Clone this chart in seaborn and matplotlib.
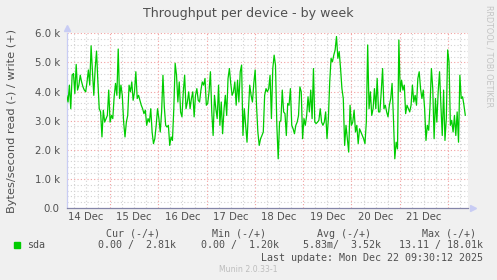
import numpy as np
import pandas as pd
import matplotlib
matplotlib.use("Agg")
import matplotlib.pyplot as plt
import seaborn as sns

# ---------------- data (values in thousands of bytes/second, write +) -------------
write_k = [
    3.87, 3.64, 4.22, 3.41, 4.56, 4.62, 3.93, 4.93, 4.05, 4.22,
    4.56, 4.33, 4.16, 4.05, 3.99, 4.33, 4.74, 4.22, 5.57, 4.68,
    3.87, 4.79, 5.39, 4.33, 3.41, 3.30, 2.44, 3.36, 2.95, 3.07,
    3.18, 4.05, 2.95, 3.18, 3.07, 3.82, 4.28, 3.87, 5.46, 3.76,
    4.22, 3.87, 2.95, 2.44, 2.95, 3.18, 4.22, 3.99, 4.33, 3.70,
    3.99, 4.68,
    3.76, 3.87, 3.70, 3.53, 3.41, 3.24, 3.36, 2.84, 3.07, 2.95,
    3.41, 2.61, 2.21, 2.38, 2.84, 3.41, 3.07, 2.61, 3.30, 4.56,
    3.47, 2.84, 2.78, 2.84, 2.15, 2.44, 2.32, 3.41, 4.97, 4.56,
    3.64, 4.33, 3.30, 3.13, 3.99, 4.56, 3.41, 3.64, 3.99, 3.41,
    3.76, 3.99, 3.13, 3.87, 4.10, 3.70, 3.64, 4.05, 4.33, 4.22,
    4.45, 3.53, 3.59, 3.99, 4.68, 3.30, 2.49, 3.87, 3.41, 3.07,
    4.22, 2.84, 3.64, 2.55, 3.36, 3.87, 3.18, 4.45, 4.79, 4.28,
    3.87, 3.99, 4.33, 3.53, 4.39, 3.64, 4.68, 4.91, 2.49, 3.41,
    2.84, 2.26, 3.30, 4.22, 3.87, 3.64, 4.28, 4.74, 3.53, 2.61,
    2.15, 2.38, 2.49, 2.61, 3.87, 4.10, 3.99, 4.10, 4.56, 3.07,
    4.79, 5.25, 4.91, 2.84, 1.69,
    2.95, 3.01, 4.05, 3.30, 3.24, 2.49, 3.59, 3.53, 4.10, 2.84,
    2.72, 2.55, 2.84, 2.95, 3.18, 4.16, 3.99, 2.38, 3.07, 2.84,
    3.18, 3.82, 3.30, 4.05, 3.07, 4.79, 2.95, 2.90, 2.95, 3.01,
    3.41, 2.95, 2.84, 2.95, 3.30, 2.38, 3.07, 4.33, 5.14, 5.02,
    5.25, 5.43, 5.89, 5.14, 5.37, 4.79, 4.10, 3.76, 2.15, 2.84,
    2.38, 1.92, 3.53, 2.84, 2.95, 3.36, 2.61, 2.84, 2.21, 2.72,
    2.61, 2.49, 2.38, 2.21, 2.95, 5.60, 3.41, 3.99, 3.18, 3.41,
    4.10, 3.41, 4.45, 3.30, 3.30, 3.99, 4.79, 3.41, 3.53, 3.30,
    3.13, 3.53, 3.76, 4.28, 3.07, 1.69, 2.26, 2.03, 5.77, 3.99,
    4.39, 4.05, 4.22, 3.24, 3.53, 3.41, 3.30, 3.53, 4.22, 3.64,
    3.87, 3.53, 4.45, 4.68, 4.10, 3.76, 4.05, 3.41, 2.32, 2.84,
    2.67, 3.53, 4.79, 4.10, 2.38, 3.76, 2.95, 3.99, 4.68, 3.53,
    2.49, 4.05, 2.32, 3.07, 5.43, 5.02, 2.84, 3.01, 2.61, 3.18,
    2.49, 3.30, 2.26, 4.56, 3.76, 3.82, 3.53, 3.18,
]
# time span of samples, in days since 14 Dec 00:00
t_first = 0.104
t_last = 8.356
view_start = 0.104
view_end = 8.412
day_labels = ["14 Dec", "15 Dec", "16 Dec", "17 Dec", "18 Dec", "19 Dec", "20 Dec", "21 Dec"]
y_ticks = [0, 1, 2, 3, 4, 5, 6]
y_tick_labels = ["0.0", "1.0 k", "2.0 k", "3.0 k", "4.0 k", "5.0 k", "6.0 k"]

legend_headers = ["Cur (-/+)", "Min (-/+)", "Avg (-/+)", "Max (-/+)"]
legend_values = ["0.00 /  2.81k", "0.00 /  1.20k", "5.83m/  3.52k", "13.11 / 18.01k"]
series_name = "sda"

df = pd.DataFrame({"t": np.linspace(t_first, t_last, len(write_k)), "v": write_k})

# ---------------- figure ------------------------------------------------------------
W, H = 497, 280
sns.set_theme(style="white")
plt.rcParams["font.family"] = ["DejaVu Sans"]
fig = plt.figure(figsize=(W / 100, H / 100), dpi=100, facecolor="#F0F0F0")

x0, x1, ytop, ybot = 66.7, 468.0, 33.3, 208.0
ax = fig.add_axes([x0 / W, 1 - ybot / H, (x1 - x0) / W, (ybot - ytop) / H])
ax.set_facecolor("white")
ax.set_xlim(view_start, view_end)
ax.set_ylim(0, 6.0)

# minor grid (grey dotted)
minor_col = "#D2D2D2"
for xv in np.arange(0.25, view_end, 0.25):
    if abs(xv - round(xv)) > 1e-6:
        ax.axvline(xv, color=minor_col, lw=0.8, ls=(0, (1, 2)), zorder=1)
for yv in np.arange(0.2, 6.0, 0.2):
    if abs(yv - round(yv)) > 1e-6:
        ax.axhline(yv, color=minor_col, lw=0.8, ls=(0, (1, 2)), zorder=1)
# major grid (red dotted)
major_col = "#F2A0A0"
for xv in range(1, 9):
    ax.axvline(xv, color=major_col, lw=0.8, ls=(0, (1, 2)), zorder=1.5)
for yv in y_ticks[1:]:
    ax.axhline(yv, color=major_col, lw=0.8, ls=(0, (1, 2)), zorder=1.5)

sns.lineplot(data=df, x="t", y="v", ax=ax, color="#00CC00", lw=0.9, zorder=3, legend=False)

for s in ["top", "right"]:
    ax.spines[s].set_visible(False)
ax.spines["left"].set_color("#C8CCF4")
ax.spines["left"].set_linewidth(0.9)
ax.spines["bottom"].set_color("#8484A8")
ax.spines["bottom"].set_linewidth(0.9)
ax.spines["bottom"].set_zorder(4)

# arrows at axis ends
ax.plot([0], [1.03], marker="^", ms=4, color="#C8CCF4", transform=ax.transAxes, clip_on=False)
ax.plot([1.012], [0], marker=">", ms=4, color="#C8CCF4", transform=ax.transAxes, clip_on=False)

ax.set_xticks([d + 0.5 for d in range(len(day_labels))])
ax.set_xticklabels(day_labels)
ax.set_yticks(y_ticks)
ax.set_yticklabels(y_tick_labels)
ax.tick_params(axis="both", length=0, labelsize=7.3, colors="#505050", pad=3)
ax.tick_params(axis="y", pad=5)
ax.set_xlabel("")
ax.set_ylabel("Bytes/second read (-) / write (+)", fontsize=8.2, color="#505050", labelpad=4)
ax.yaxis.set_label_coords(-0.124, 0.5)


def ftext(x, y, s, **kw):
    fig.text(x / W, 1 - y / H, s, **kw)


ftext(248.5, 13, "Throughput per device - by week", ha="center", va="center",
      fontsize=9.1, color="#505050")
ftext(489, 5, "RRDTOOL / TOBI OETIKER", ha="center", va="top", rotation=270,
      fontsize=5.8, color="#C4C4C4")

mono = "DejaVu Sans Mono"
hdr_right = [160, 266, 371, 476]
val_right = [176, 279, 381, 483]
for hx, h in zip(hdr_right, legend_headers):
    ftext(hx, 234, h, ha="right", va="center", fontsize=7.2, family=mono, color="#505050")
for vx, v in zip(val_right, legend_values):
    ftext(vx, 245, v, ha="right", va="center", fontsize=7.2, family=mono, color="#505050")
fig.patches.append(plt.Rectangle((14 / W, 1 - 247.5 / H), 6 / W, 6 / H,
                                 transform=fig.transFigure, color="#00CC00"))
ftext(27, 245, series_name, ha="left", va="center", fontsize=7.2, family=mono, color="#505050")
ftext(483, 258, "Last update: Mon Dec 22 09:30:12 2025", ha="right", va="center",
      fontsize=7.2, family=mono, color="#505050")
ftext(248, 269, "Munin 2.0.33-1", ha="center", va="center", fontsize=5.6, color="#BDBDBD")

fig.savefig("out.png", dpi=100, facecolor="#F0F0F0")
